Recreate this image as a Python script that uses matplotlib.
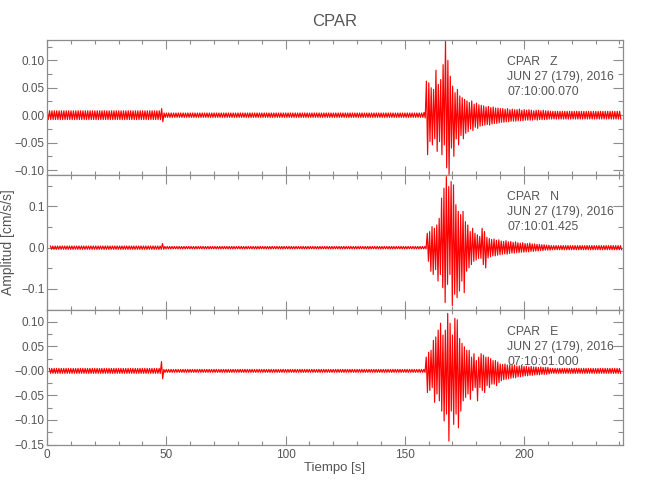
import numpy as np
import matplotlib

matplotlib.use("Agg")

from matplotlib import pyplot as plt
from matplotlib.ticker import MultipleLocator, FixedLocator, FixedFormatter

plt.rcParams["font.family"] = ["Liberation Sans", "DejaVu Sans"]

TEXT = "#555555"
FRAME = "#8c8c8c"
TRACE = "#ff0000"

station = "CPAR"
channels = ["Z", "N", "E"]
date_text = "JUN 27 (179), 2016"
start_times = ["07:10:00.070", "07:10:01.425", "07:10:01.000"]
t0 = [0.07, 1.425, 1.0]

# quiet noise levels (upper, lower) before the 48 s blip, the blip, and until the event
pre_noise = [(0.008, -0.008), (0.004, -0.004), (0.005, -0.005)]
blip = [(0.012, -0.012), (0.010, -0.004), (0.019, -0.016)]
mid_noise = [(0.004, -0.004), (0.003, -0.003), (0.003, -0.003)]
tail_noise = [(0.007, -0.007), (0.005, -0.005), (0.005, -0.005)]

# per-second peaks, 158 s .. 210 s
z_up = [0.005, 0.062, 0.059, 0.050, 0.047, 0.082, 0.056, 0.065, 0.092, 0.136,
        0.100, 0.071, 0.053, 0.041, 0.047, 0.035, 0.032, 0.029, 0.026, 0.023,
        0.026, 0.020, 0.022, 0.019, 0.018, 0.017, 0.015, 0.016, 0.014, 0.015,
        0.013, 0.013, 0.012, 0.012, 0.011, 0.012, 0.010, 0.011, 0.010, 0.010,
        0.011, 0.009, 0.010, 0.009, 0.010, 0.009, 0.008, 0.009, 0.009, 0.008,
        0.009, 0.008, 0.008]
z_lo = [-0.005, -0.072, -0.048, -0.054, -0.043, -0.066, -0.048, -0.072, -0.054, -0.096,
        -0.108, -0.060, -0.075, -0.043, -0.054, -0.037, -0.043, -0.033, -0.030, -0.025,
        -0.028, -0.022, -0.024, -0.020, -0.019, -0.018, -0.017, -0.018, -0.016, -0.015,
        -0.015, -0.014, -0.013, -0.013, -0.012, -0.012, -0.011, -0.011, -0.011, -0.010,
        -0.010, -0.010, -0.009, -0.009, -0.009, -0.009, -0.008, -0.009, -0.008, -0.008,
        -0.008, -0.008, -0.007]
n_up = [0.003, 0.035, 0.039, 0.051, 0.047, 0.055, 0.071, 0.120, 0.144, 0.172,
        0.148, 0.160, 0.152, 0.104, 0.088, 0.080, 0.088, 0.063, 0.055, 0.039,
        0.047, 0.035, 0.031, 0.027, 0.047, 0.039, 0.025, 0.022, 0.020, 0.021,
        0.018, 0.019, 0.016, 0.015, 0.017, 0.014, 0.015, 0.013, 0.014, 0.012,
        0.011, 0.012, 0.010, 0.010, 0.011, 0.009, 0.009, 0.008, 0.008, 0.007,
        0.007, 0.006, 0.006]
n_lo = [-0.003, -0.033, -0.057, -0.065, -0.053, -0.081, -0.065, -0.097, -0.133, -0.089,
        -0.065, -0.140, -0.113, -0.121, -0.105, -0.081, -0.109, -0.057, -0.049, -0.041,
        -0.033, -0.030, -0.026, -0.026, -0.041, -0.049, -0.025, -0.022, -0.020, -0.020,
        -0.018, -0.017, -0.016, -0.015, -0.016, -0.014, -0.013, -0.013, -0.012, -0.012,
        -0.011, -0.011, -0.010, -0.010, -0.009, -0.009, -0.008, -0.008, -0.007, -0.007,
        -0.006, -0.006, -0.006]
e_up = [0.003, 0.028, 0.038, 0.042, 0.062, 0.069, 0.083, 0.097, 0.073, 0.083,
        0.117, 0.097, 0.073, 0.107, 0.104, 0.066, 0.056, 0.049, 0.042, 0.042,
        0.028, 0.035, 0.021, 0.028, 0.035, 0.032, 0.028, 0.028, 0.025, 0.021,
        0.021, 0.018, 0.014, 0.013, 0.014, 0.012, 0.012, 0.011, 0.012, 0.010,
        0.010, 0.011, 0.009, 0.009, 0.008, 0.009, 0.008, 0.008, 0.007, 0.008,
        0.007, 0.007, 0.007]
e_lo = [-0.003, -0.044, -0.040, -0.034, -0.064, -0.047, -0.061, -0.082, -0.102, -0.088,
        -0.143, -0.082, -0.109, -0.088, -0.116, -0.082, -0.061, -0.054, -0.047, -0.058,
        -0.040, -0.034, -0.061, -0.034, -0.040, -0.044, -0.030, -0.034, -0.027, -0.027,
        -0.030, -0.024, -0.020, -0.018, -0.017, -0.016, -0.015, -0.014, -0.014, -0.012,
        -0.012, -0.011, -0.010, -0.010, -0.009, -0.009, -0.008, -0.008, -0.008, -0.007,
        -0.007, -0.007, -0.006]
event_up = [z_up, n_up, e_up]
event_lo = [z_lo, n_lo, e_lo]
pre_count = [48, 47, 47]

y_limits = [(-0.109, 0.137), (-0.151, 0.176), (-0.151, 0.124)]
y_ticks = [
    [0.10, 0.05, 0.0, -0.05, -0.10],
    [0.1, 0.0, -0.1],
    [0.10, 0.05, 0.0, -0.05, -0.10, -0.15],
]
y_labels = [
    ["0.10", "0.05", "0.00", "\u22120.05", "\u22120.10"],
    ["0.1", "0.0", "\u22120.1"],
    ["0.10", "0.05", "\u22120.00", "\u22120.05", "\u22120.10", "\u22120.15"],
]
y_minor = [0.025, 0.05, 0.025]

fig = plt.figure(figsize=(6.5, 5.0), dpi=100)
left, width, height = 0.0723, 0.8862, 0.27
bottoms = [0.65, 0.38, 0.11]

for i, ch in enumerate(channels):
    ax = fig.add_axes([left, bottoms[i], width, height])
    up = ([pre_noise[i][0]] * pre_count[i] + [blip[i][0]] + [mid_noise[i][0]] * 109
          + event_up[i] + [tail_noise[i][0]] * 30)
    lo = ([pre_noise[i][1]] * pre_count[i] + [blip[i][1]] + [mid_noise[i][1]] * 109
          + event_lo[i] + [tail_noise[i][1]] * 30)
    t = t0[i] + np.arange(len(up))
    ts = np.column_stack([t, t + 0.5]).ravel()
    ys = np.column_stack([up, lo]).ravel()
    ax.plot(ts, ys, color=TRACE, linewidth=0.85)

    ax.set_xlim(0, 241.5)
    ax.set_ylim(*y_limits[i])
    ax.xaxis.set_major_locator(MultipleLocator(50))
    ax.xaxis.set_minor_locator(MultipleLocator(10))
    ax.yaxis.set_major_locator(FixedLocator(y_ticks[i]))
    ax.yaxis.set_major_formatter(FixedFormatter(y_labels[i]))
    ax.yaxis.set_minor_locator(MultipleLocator(y_minor[i]))
    ax.tick_params(which="both", direction="in", top=True, right=True,
                   color=FRAME, labelcolor=TEXT, labelsize=8.5, width=0.8)
    ax.tick_params(axis="y", which="major", length=7, pad=1.5)
    ax.tick_params(axis="y", which="minor", length=3.5)
    ax.tick_params(axis="x", which="major", length=6.5, pad=3)
    ax.tick_params(axis="x", which="minor", length=3)
    if i < 2:
        ax.tick_params(axis="x", labelbottom=False)
    for sp in ax.spines.values():
        sp.set_color(FRAME)
        sp.set_linewidth(0.9)

    ax.text(0.799, 0.885, f"{station}   {ch}\n{date_text}\n{start_times[i]}",
            transform=ax.transAxes, ha="left", va="top", fontsize=8.8,
            color=TEXT, linespacing=1.38)

fig.text(0.515, 0.956, station, ha="center", va="center", fontsize=12, color=TEXT)
fig.text(0.515, 0.064, "Tiempo [s]", ha="center", va="center", fontsize=9.5, color=TEXT)
fig.text(0.013, 0.516, "Amplitud [cm/s/s]", ha="center", va="center",
         rotation=90, fontsize=10, color=TEXT)

fig.savefig("out.png", dpi=100)
